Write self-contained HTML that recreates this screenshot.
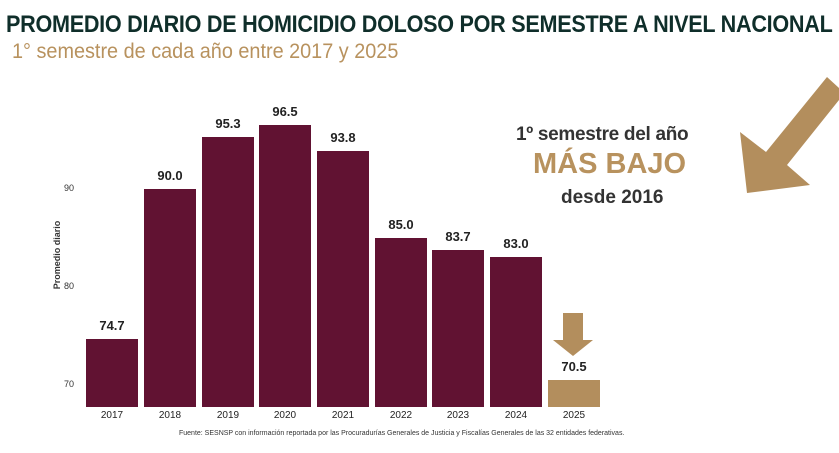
<!DOCTYPE html>
<html><head><meta charset="utf-8"><style>
body{margin:0;width:839px;height:453px;background:#fff;overflow:hidden;position:relative;font-family:"Liberation Sans",sans-serif}
.t{position:absolute;white-space:nowrap;transform-origin:0 0}
.bar{position:absolute;background:#611232;width:52px}
.v{position:absolute;width:52px;text-align:center;font-weight:bold;font-size:13px;color:#222}
.y{position:absolute;width:52px;text-align:center;font-size:10px;color:#222;top:410px}
.yt{position:absolute;left:64px;font-size:9px;color:#333}
</style></head><body>
<div class="t" style="left:6px;top:11px;font-size:24px;font-weight:bold;color:#0f2e2a;transform:scaleX(0.9);letter-spacing:-0.3px">PROMEDIO DIARIO DE HOMICIDIO DOLOSO POR SEMESTRE A NIVEL NACIONAL</div>
<div class="t" style="left:12px;top:40px;font-size:21px;color:#b8925e;transform:scaleX(0.945)">1° semestre de cada año entre 2017 y 2025</div>

<svg style="position:absolute;left:0;top:0" width="839" height="453">
<polygon points="747,193 740,132 766,152 827,77 839,88 839,100 787,165 810,185" fill="#b38e5d"/>
<polygon points="563,313 583,313 583,340 593,340 573,356 553,340 563,340" fill="#b38e5d"/>
</svg>

<div class="t" style="left:516px;top:124px;font-size:19px;color:#333;font-weight:bold;letter-spacing:-0.3px">1º semestre del año</div>
<div class="t" style="left:533px;top:148px;font-size:29px;color:#b8925e;font-weight:bold">MÁS BAJO</div>
<div class="t" style="left:561px;top:187px;font-size:19px;color:#333;font-weight:bold">desde 2016</div>

<div style="position:absolute;left:7px;top:250px;width:100px;text-align:center;font-size:9px;font-weight:bold;color:#333;transform:rotate(-90deg)">Promedio diario</div>
<div class="yt" style="top:183px">90</div>
<div class="yt" style="top:281px">80</div>
<div class="yt" style="top:379px">70</div>

<div class="bar" style="left:86px;top:339px;height:68px"></div>
<div class="bar" style="left:144px;top:189px;height:218px"></div>
<div class="bar" style="left:202px;top:137px;height:270px"></div>
<div class="bar" style="left:259px;top:125px;height:282px"></div>
<div class="bar" style="left:317px;top:151px;height:256px"></div>
<div class="bar" style="left:375px;top:238px;height:169px"></div>
<div class="bar" style="left:432px;top:250px;height:157px"></div>
<div class="bar" style="left:490px;top:257px;height:150px"></div>
<div class="bar" style="left:548px;top:380px;height:27px;background:#b38e5d"></div>

<div class="v" style="left:86px;top:318px">74.7</div>
<div class="v" style="left:144px;top:168px">90.0</div>
<div class="v" style="left:202px;top:116px">95.3</div>
<div class="v" style="left:259px;top:104px">96.5</div>
<div class="v" style="left:317px;top:130px">93.8</div>
<div class="v" style="left:375px;top:217px">85.0</div>
<div class="v" style="left:432px;top:229px">83.7</div>
<div class="v" style="left:490px;top:236px">83.0</div>
<div class="v" style="left:548px;top:359px">70.5</div>

<div class="y" style="left:86px">2017</div>
<div class="y" style="left:144px">2018</div>
<div class="y" style="left:202px">2019</div>
<div class="y" style="left:259px">2020</div>
<div class="y" style="left:317px">2021</div>
<div class="y" style="left:375px">2022</div>
<div class="y" style="left:432px">2023</div>
<div class="y" style="left:490px">2024</div>
<div class="y" style="left:548px">2025</div>

<div class="t" style="left:179px;top:430px;font-size:7px;color:#333">Fuente: SESNSP con información reportada por las Procuradurías Generales de Justicia y Fiscalías Generales de las 32 entidades federativas.</div>
</body></html>
